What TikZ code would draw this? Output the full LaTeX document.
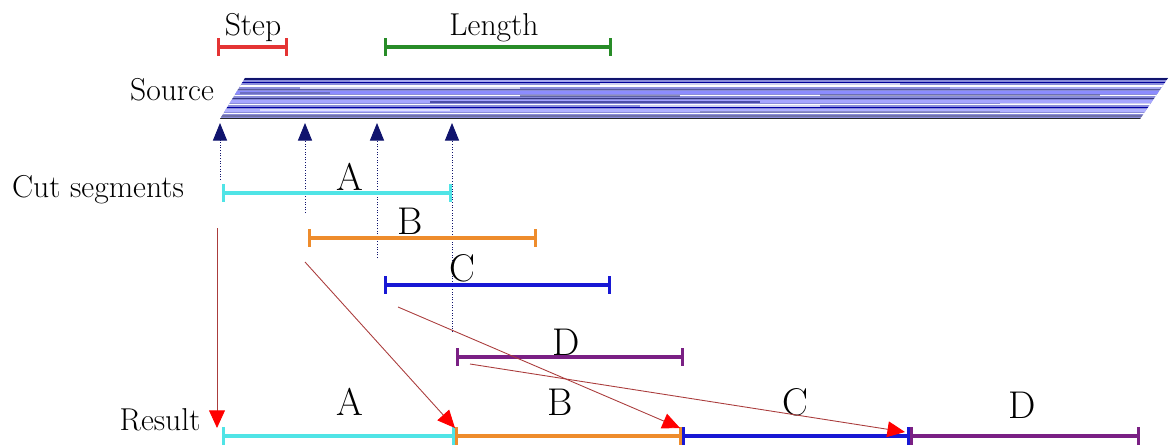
\documentclass[tikz,border=0pt]{standalone}
\usetikzlibrary{arrows.meta}
\definecolor{navy}{RGB}{16,20,110}
\definecolor{bandmid}{RGB}{138,140,218}
\definecolor{stepred}{RGB}{228,52,52}
\definecolor{lengreen}{RGB}{40,140,40}
\definecolor{segA}{RGB}{80,228,230}
\definecolor{segB}{RGB}{238,140,44}
\definecolor{segC}{RGB}{24,24,212}
\definecolor{segD}{RGB}{122,32,132}
\definecolor{moveline}{RGB}{170,60,60}
\begin{document}
\begin{tikzpicture}[x=0.02cm, y=-0.02cm,
    lbl/.style={font=\fontsize{18}{20}\selectfont, inner sep=0pt},
    seglbl/.style={font=\fontsize{22}{24}\selectfont, inner sep=0pt},
    span/.style={line width=1.8pt, {Bar[width=10pt]}-{Bar[width=10pt]}},
    probe/.style={navy, line width=0.5pt, densely dotted, -{Triangle[length=10pt, width=8pt, sep=0pt]}},
    move/.style={moveline, line width=0.5pt, -{Triangle[length=10pt, width=9pt, red]}}]
  \useasboundingbox (0,0) rectangle (1170,446);

  % Step and Length
  \coordinate (s1) at (217,47);  \coordinate (s2) at (288,47);
  \coordinate (l1) at (384,47);  \coordinate (l2) at (612,47);
  \draw[span, stepred] (s1) -- (s2);
  \draw[span, lengreen] (l1) -- (l2);
  \node[lbl] (step) at (253,28) {Step};
  \node[lbl] (length) at (494,28) {Length};

  % Source band
  \node[lbl] (source) at (172,90) {Source};
  \begin{scope}
    \clip (245,78) -- (1168,78) -- (1140,119) -- (220,119) -- cycle;
    \fill[bandmid] (200,70) rectangle (1170,125);
    \foreach \yy/\c/\w in {79/navy/1.0, 82.5/blue!60!black/0.8, 86/white/1.2,
                           89.5/navy!70/0.8, 92.5/blue!45!white/1.4, 95.5/white/0.9,
                           98.5/navy!85/1.0, 101.5/blue!35!white/1.2, 104.5/white/1.1,
                           107.5/blue!65!black/0.9, 110.5/blue!30!white/1.2, 113.5/white/0.8,
                           116/navy!60/0.8, 118.5/black!85/1.0}
      \draw[\c, line width=\w pt] (200,\yy) -- (1170,\yy);
    \foreach \xa/\xb/\yy/\c in {300/520/88/white, 600/900/84/white, 430/760/102/navy,
                                820/1100/95/navy!70, 260/450/110/white, 700/1000/112/navy!60,
                                950/1160/88/blue!25, 520/680/96/navy!80, 350/600/81/blue!25,
                                640/820/106/white, 240/330/93/navy!70, 1000/1150/104/white}
      \draw[\c, line width=1.6pt, opacity=0.6] (\xa,\yy) -- (\xb,\yy);
  \end{scope}

  % probes up to the source
  \foreach \i/\px/\py in {1/220/180, 2/305/213, 3/377/258, 4/452/332} {
    \coordinate (pb\i) at (\px,\py);
    \coordinate (pt\i) at (\px,123);
    \draw[probe] (pb\i) -- (pt\i);
  }

  % Cut segments
  \node[lbl] (cut) at (98,190) {Cut segments};
  \coordinate (a1) at (222,193); \coordinate (a2) at (452,193);
  \coordinate (b1) at (308,238); \coordinate (b2) at (537,238);
  \coordinate (c1) at (384,285); \coordinate (c2) at (611,285);
  \coordinate (d1) at (456,357); \coordinate (d2) at (684,357);
  \draw[span, segA] (a1) -- (a2);
  \draw[span, segB] (b1) -- (b2);
  \draw[span, segC] (c1) -- (c2);
  \draw[span, segD] (d1) -- (d2);
  \node[seglbl] (la) at (350,177) {A};
  \node[seglbl] (lb) at (410,221) {B};
  \node[seglbl] (lc) at (462,268) {C};
  \node[seglbl] (ld) at (566,342) {D};

  % Result
  \node[lbl] (result) at (160,420) {Result};
  \coordinate (r0) at (222,436); \coordinate (r1) at (455,436);
  \coordinate (r2) at (682,436); \coordinate (r3) at (910,436);
  \coordinate (r4) at (1140,436);
  \draw[span, segA] (r0) -- (r1);
  \draw[span, segB] (r1) -- (r2);
  \draw[span, segC] (r2) -- (r3);
  \draw[span, segD] (r3) -- (r4);
  \node[seglbl] (ra) at (350,402) {A};
  \node[seglbl] (rb) at (560,402) {B};
  \node[seglbl] (rc) at (795,402) {C};
  \node[seglbl] (rd) at (1022,405) {D};

  % moves into the result
  \coordinate (ma) at (217,228); \coordinate (ta) at (217,428);
  \coordinate (mb) at (305,262); \coordinate (tb) at (455,428);
  \coordinate (mc) at (398,307); \coordinate (tc) at (680,428);
  \coordinate (md) at (470,364); \coordinate (td) at (905,432);
  \draw[move] (ma) -- (ta);
  \draw[move] (mb) -- (tb);
  \draw[move] (mc) -- (tc);
  \draw[move] (md) -- (td);
\end{tikzpicture}
\end{document}
